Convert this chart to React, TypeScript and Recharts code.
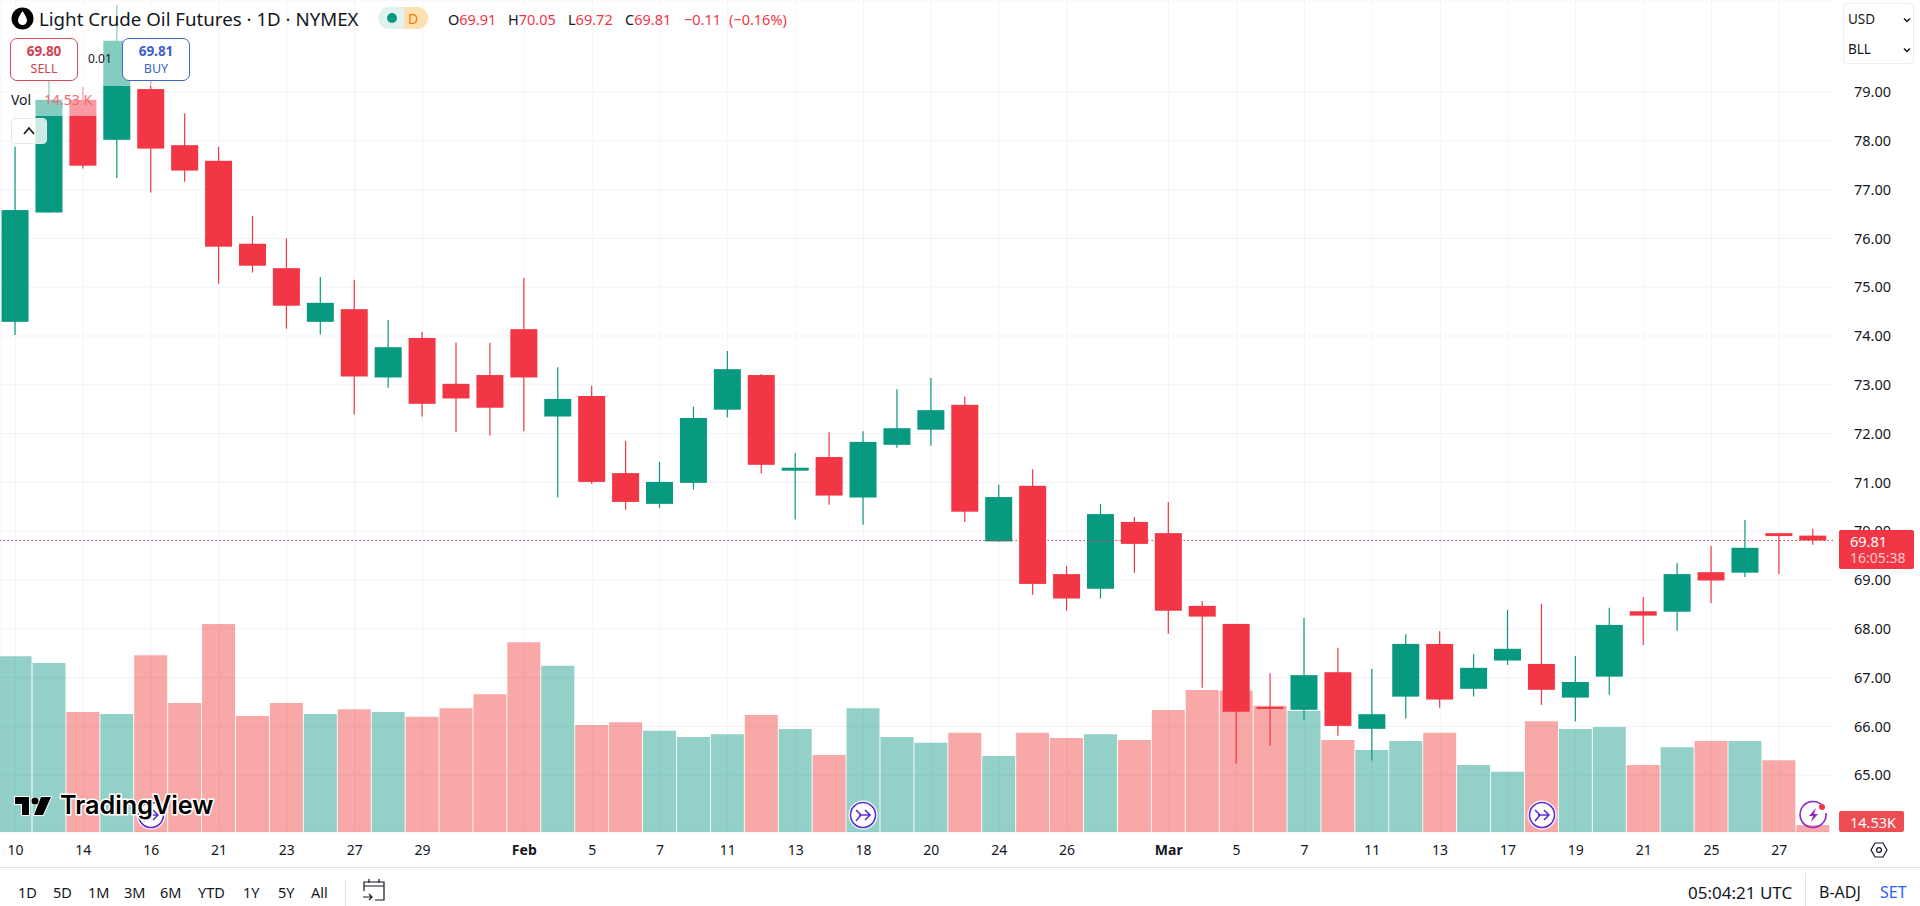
import { Bar, CartesianGrid, Cell, ComposedChart, ReferenceLine, XAxis, YAxis } from 'recharts';

// daily bars
const opens = [74.29, 76.53, 78.84, 78.02, 79.06, 77.91, 77.59, 75.89, 75.39, 74.29, 74.55, 73.15, 73.96, 73.02, 73.20, 74.14, 72.35, 72.77, 71.19, 70.56, 70.99, 72.49, 73.20, 71.24, 71.52, 70.69, 71.77, 72.08, 72.59, 69.79, 70.93, 69.12, 68.82, 70.19, 69.96, 68.47, 68.10, 66.40, 66.34, 67.11, 65.95, 66.61, 67.69, 66.77, 67.35, 67.28, 66.59, 67.02, 68.36, 68.35, 69.16, 69.15, 69.96, 69.91];
const highs = [77.88, 79.25, 79.10, 80.78, 79.30, 78.56, 77.88, 76.46, 76.00, 75.21, 75.15, 74.33, 74.08, 73.86, 73.86, 75.19, 73.36, 72.98, 71.85, 71.42, 72.55, 73.69, 73.22, 71.60, 72.03, 72.05, 72.91, 73.14, 72.76, 70.95, 71.27, 69.29, 70.56, 70.29, 70.60, 68.57, 68.10, 67.09, 68.22, 67.61, 67.18, 67.89, 67.95, 67.48, 68.39, 68.51, 67.44, 68.43, 68.65, 69.35, 69.70, 70.23, 69.96, 70.05];
const lows = [74.02, 76.53, 77.43, 77.24, 76.94, 77.16, 75.07, 75.30, 74.15, 74.03, 72.39, 72.94, 72.35, 72.04, 71.96, 72.05, 70.69, 70.97, 70.44, 70.48, 70.85, 72.33, 71.18, 70.24, 70.54, 70.13, 71.71, 71.75, 70.19, 69.79, 68.70, 68.37, 68.62, 69.15, 67.90, 66.79, 65.24, 65.60, 66.14, 65.81, 65.30, 66.16, 66.38, 66.61, 67.26, 66.44, 66.10, 66.65, 67.67, 67.96, 68.53, 69.06, 69.12, 69.72];
const closes = [76.58, 78.84, 77.49, 80.05, 77.84, 77.39, 75.83, 75.44, 74.62, 74.68, 73.17, 73.77, 72.61, 72.72, 72.53, 73.15, 72.71, 71.01, 70.60, 71.01, 72.32, 73.32, 71.36, 71.30, 70.73, 71.83, 72.11, 72.48, 70.40, 70.70, 68.92, 68.62, 70.35, 69.74, 68.37, 68.25, 66.30, 66.36, 67.05, 66.01, 66.25, 67.69, 66.55, 67.20, 67.59, 66.75, 66.91, 68.08, 68.27, 69.12, 68.99, 69.66, 69.90, 69.81];
const volumes = [365, 351, 249, 245, 367, 268, 432, 241, 268, 245, 255, 249, 239, 257, 286, 394, 345, 222, 228, 210, 197, 203, 243, 214, 160, 257, 197, 185, 206, 158, 206, 195, 203, 191, 253, 295, 293, 262, 251, 191, 170, 189, 206, 139, 125, 230, 214, 218, 139, 176, 189, 189, 149, 14.53];

const tickIndexes = [0, 2, 4, 6, 8, 10, 12, 15, 17, 19, 21, 23, 25, 27, 29, 31, 34, 36, 38, 40, 42, 44, 46, 48, 50, 52];
const tickLabels = ['10', '14', '16', '21', '23', '27', '29', 'Feb', '5', '7', '11', '13', '18', '20', '24', '26', 'Mar', '5', '7', '11', '13', '17', '19', '21', '25', '27'];
const priceTicks = [65, 66, 67, 68, 69, 70, 71, 72, 73, 74, 75, 76, 77, 78, 79];
const ranges = ['1D', '5D', '1M', '3M', '6M', 'YTD', '1Y', '5Y', 'All'];
const rangeX = [18, 53, 88, 124, 160, 198, 243, 278, 311];

const GREEN = '#089981';
const RED = '#f23645';
const VOL_GREEN = '#0d9785';
const VOL_RED = '#ed3e3c';
const INK = '#131722';
const FONT = '"Noto Sans", sans-serif';

const table = opens.map((open, i) => ({
  i,
  open,
  high: highs[i],
  low: lows[i],
  close: closes[i],
  volume: volumes[i],
  range: [lows[i], highs[i]],
}));

function Candle(props: any) {
  const { x, y, width, height, payload } = props;
  const perUnit = height / (payload.high - payload.low);
  const top = y + (payload.high - Math.max(payload.open, payload.close)) * perUnit;
  const bottom = y + (payload.high - Math.min(payload.open, payload.close)) * perUnit;
  const color = payload.close >= payload.open ? GREEN : RED;
  return (
    <g>
      <line x1={x + width / 2} x2={x + width / 2} y1={y} y2={y + height} stroke={color} strokeWidth={1.2} />
      <rect x={x} y={top} width={width} height={Math.max(bottom - top, 2)} fill={color} />
    </g>
  );
}

function DateTick(props: any) {
  const { x, payload } = props;
  const label = tickLabels[tickIndexes.indexOf(payload.value)];
  const bold = label === 'Feb' || label === 'Mar';
  return (
    <text x={x} y={855} textAnchor="middle" fontSize={14} fontFamily={FONT} fontWeight={bold ? 700 : 400} fill={INK}>
      {label}
    </text>
  );
}

function Txt({ x, y, size = 14, color = INK, weight = 400, children }: any) {
  return (
    <div style={{ position: 'absolute', left: x, top: y, transform: 'translateY(-50%)', fontSize: size, color, fontWeight: weight, fontFamily: FONT, lineHeight: 1, whiteSpace: 'nowrap' }}>
      {children}
    </div>
  );
}

function Box({ x, y, w, h, style }: any) {
  return <div style={{ position: 'absolute', left: x, top: y, width: w, height: h, boxSizing: 'border-box', ...style }} />;
}

function EventIcon({ cx, cy }: any) {
  return (
    <svg style={{ position: 'absolute', left: cx - 15, top: cy - 15 }} width={30} height={30} viewBox="0 0 30 30">
      <circle cx={15} cy={15} r={14.5} fill="#fff" />
      <circle cx={15} cy={15} r={12.5} fill="#fff" stroke="#5b2fd6" strokeWidth={1.6} />
      <path d="M8 10 L13 15 L8 21 M11 15 H22 M17 10 L22 15 L17 20" fill="none" stroke="#5b2fd6" strokeWidth={1.6} />
    </svg>
  );
}

export default function App() {
  return (
    <div style={{ position: 'absolute', left: 0, top: 0, width: 1920, height: 906, overflow: 'hidden', background: '#fff' }}>
      <ComposedChart width={1920} height={906} data={table} margin={{ top: 0, right: 0, bottom: 0, left: 0 }}>
        <CartesianGrid stroke="#f0f3fa" strokeWidth={1} yAxisId="price" xAxisId="price" />
        <XAxis
          xAxisId="price"
          dataKey="i"
          type="number"
          domain={[-0.457, 53.7]}
          allowDataOverflow
          ticks={tickIndexes}
          interval={0}
          height={74}
          axisLine={false}
          tickLine={false}
          tick={<DateTick />}
        />
        <XAxis xAxisId="vol" dataKey="i" type="number" domain={[-0.457, 53.7]} allowDataOverflow hide />
        <YAxis
          yAxisId="price"
          orientation="right"
          domain={[63.836, 80.885]}
          allowDataOverflow
          ticks={priceTicks}
          interval={0}
          width={83}
          axisLine={false}
          tickLine={false}
          stroke="none"
          tickMargin={11}
          tickFormatter={(v: number) => v.toFixed(2)}
          tick={{ fill: INK, fontSize: 14.5, fontFamily: FONT }}
        />
        <YAxis yAxisId="vol" domain={[0, 1727]} allowDataOverflow hide />
        <Bar xAxisId="vol" yAxisId="vol" dataKey="volume" barSize={33} isAnimationActive={false}>
          {table.map((d) => (
            <Cell key={d.i} fill={d.close >= d.open ? VOL_GREEN : VOL_RED} fillOpacity={0.45} />
          ))}
        </Bar>
        <Bar xAxisId="price" yAxisId="price" dataKey="range" barSize={27} shape={<Candle />} isAnimationActive={false} />
        <ReferenceLine xAxisId="price" yAxisId="price" y={69.81} stroke={RED} strokeDasharray="1.5 2.5" strokeWidth={1} />
      </ComposedChart>

      {/* keep the price scale column clean */}
      <Box x={1834} y={0} w={9} h={866} style={{ background: '#fff' }} />

      {/* legend veil over the candles */}
      <Box x={8} y={4} w={182} h={82} style={{ background: 'rgba(255,255,255,0.5)' }} />
      <Box x={8} y={86} w={90} h={30} style={{ background: 'rgba(255,255,255,0.5)' }} />

      {/* header */}
      <svg style={{ position: 'absolute', left: 11, top: 7 }} width={23} height={23} viewBox="0 0 23 23">
        <circle cx={11.5} cy={11.5} r={11} fill="#000" />
        <path d="M11.5 4 C9 8 7 11 7 13.5 A4.5 4.5 0 0 0 16 13.5 C16 11 14 8 11.5 4 Z" fill="#fff" />
      </svg>
      <Txt x={39} y={19} size={18.7}>Light Crude Oil Futures · 1D · NYMEX</Txt>
      <Box x={378} y={7} w={26} h={22} style={{ background: '#dff2ee', borderRadius: '11px 0 0 11px' }} />
      <Box x={404} y={7} w={24} h={22} style={{ background: '#ffdfb0', borderRadius: '0 11px 11px 0' }} />
      <Box x={387} y={13} w={10} h={10} style={{ background: GREEN, borderRadius: 5 }} />
      <Txt x={408} y={19} size={14} color="#f57c00">D</Txt>
      <Txt x={448} y={19} size={14.5}>O<span style={{ color: RED }}>69.91</span></Txt>
      <Txt x={508} y={19} size={14.5}>H<span style={{ color: RED }}>70.05</span></Txt>
      <Txt x={568} y={19} size={14.5}>L<span style={{ color: RED }}>69.72</span></Txt>
      <Txt x={625} y={19} size={14.5}>C<span style={{ color: RED }}>69.81</span></Txt>
      <Txt x={684} y={19} size={14.5} color={RED}>−0.11</Txt>
      <Txt x={729} y={19} size={14.5} color={RED}>(−0.16%)</Txt>

      {/* sell and buy */}
      <Box x={10} y={38} w={68} h={43} style={{ background: '#fff', border: '1px solid #d9475a', borderRadius: 7 }} />
      <Box x={122} y={38} w={68} h={43} style={{ background: '#fff', border: '1px solid #3f6bc8', borderRadius: 7 }} />
      <div style={{ position: 'absolute', left: 10, width: 68, top: 45, textAlign: 'center', fontFamily: FONT, color: '#d2404f', lineHeight: 1 }}>
        <div style={{ fontSize: 13.5, fontWeight: 700 }}>69.80</div>
        <div style={{ fontSize: 12.5, marginTop: 4 }}>SELL</div>
      </div>
      <div style={{ position: 'absolute', left: 122, width: 68, top: 45, textAlign: 'center', fontFamily: FONT, color: '#3a62cc', lineHeight: 1 }}>
        <div style={{ fontSize: 13.5, fontWeight: 700 }}>69.81</div>
        <div style={{ fontSize: 12.5, marginTop: 4 }}>BUY</div>
      </div>
      <Txt x={88} y={59} size={12}>0.01</Txt>
      <Txt x={11} y={100} size={14}>Vol</Txt>
      <Txt x={44} y={100} size={14} color="#ef6a72">14.53 K</Txt>
      <Box x={11} y={118} w={36} h={26} style={{ background: 'rgba(255,255,255,0.8)', border: '1px solid #e6e8ee', borderRadius: 4 }} />
      <svg style={{ position: 'absolute', left: 22, top: 125 }} width={14} height={12} viewBox="0 0 14 12">
        <path d="M2 9 L7 3 L12 9" fill="none" stroke={INK} strokeWidth={1.6} />
      </svg>

      {/* currency and unit */}
      <Box x={1843} y={3} w={71} h={61} style={{ background: '#fff', border: '1px solid #eceef3', borderRadius: 4 }} />
      <Txt x={1848} y={20} size={13.5}>USD</Txt>
      <Txt x={1848} y={50} size={13.5}>BLL</Txt>
      {[20, 50].map((y) => (
        <svg key={y} style={{ position: 'absolute', left: 1902, top: y - 4 }} width={10} height={8} viewBox="0 0 10 8">
          <path d="M2 2.5 L5 5.5 L8 2.5" fill="none" stroke={INK} strokeWidth={1.5} />
        </svg>
      ))}

      {/* last price and volume tags */}
      <Box x={1839} y={530} w={75} h={39} style={{ background: RED, borderRadius: 2 }} />
      <Txt x={1850} y={541} size={14.5} color="#fff">69.81</Txt>
      <Txt x={1850} y={558} size={14} color="rgba(255,255,255,0.75)">16:05:38</Txt>
      <Box x={1839} y={811} w={65} h={21} style={{ background: '#ee4b53', borderRadius: 2 }} />
      <Txt x={1850} y={822} size={14.5} color="#fff">14.53K</Txt>

      {/* event markers */}
      <EventIcon cx={151} cy={815} />
      <EventIcon cx={863} cy={815} />
      <EventIcon cx={1542} cy={815} />
      <svg style={{ position: 'absolute', left: 1798, top: 800 }} width={32} height={30} viewBox="0 0 32 30">
        <path d="M24 5 A13 13 0 1 0 28 13" fill="none" stroke="#8e2dc4" strokeWidth={1.6} />
        <path d="M18 8 L11 16 H15 L13 22 L20 14 H16 Z" fill="#8e2dc4" />
        <circle cx={24} cy={7} r={3} fill={RED} />
      </svg>

      {/* logo */}
      <svg style={{ position: 'absolute', left: 12, top: 792 }} width={44} height={28} viewBox="0 0 44 28">
        <path d="M3 5 H17 V23 H10 V12 H3 Z M29 5 H39 L31 23 H22 Z" fill="#000" stroke="#fff" strokeWidth={2} paintOrder="stroke" />
        <circle cx={23} cy={9} r={3.5} fill="#000" stroke="#fff" strokeWidth={1.5} paintOrder="stroke" />
      </svg>
      <div style={{ position: 'absolute', left: 60, top: 790, fontSize: 25.2, fontWeight: 600, fontFamily: 'Inter, sans-serif', color: '#000', WebkitTextStroke: '3px #fff', paintOrder: 'stroke', lineHeight: '30px' }}>
        TradingView
      </div>

      {/* axis settings */}
      <svg style={{ position: 'absolute', left: 1870, top: 841 }} width={18} height={18} viewBox="0 0 18 18">
        <path d="M5 2 H13 L17 9 L13 16 H5 L1 9 Z" fill="none" stroke={INK} strokeWidth={1.2} />
        <circle cx={9} cy={9} r={2.4} fill="none" stroke={INK} strokeWidth={1.2} />
      </svg>

      {/* bottom toolbar */}
      <Box x={0} y={867} w={1920} h={1} style={{ background: '#e0e3eb' }} />
      {ranges.map((r, i) => (
        <Txt key={r} x={rangeX[i]} y={892} size={14.5}>{r}</Txt>
      ))}
      <Box x={345} y={879} w={1} h={27} style={{ background: '#e0e3eb' }} />
      <svg style={{ position: 'absolute', left: 361, top: 877 }} width={26} height={26} viewBox="0 0 26 26">
        <path d="M3 14 V5 H23 V23 H14 M3 9 H23 M8 2 V6 M18 2 V6 M2 20 H11 M8 17 L11 20 L8 23" fill="none" stroke={INK} strokeWidth={1.2} />
      </svg>
      <Txt x={1688} y={892} size={17}>05:04:21 UTC</Txt>
      <Box x={1805} y={873} w={1} h={33} style={{ background: '#e0e3eb' }} />
      <Txt x={1819} y={892} size={16}>B-ADJ</Txt>
      <Txt x={1880} y={892} size={16} color="#2962ff">SET</Txt>
    </div>
  );
}
